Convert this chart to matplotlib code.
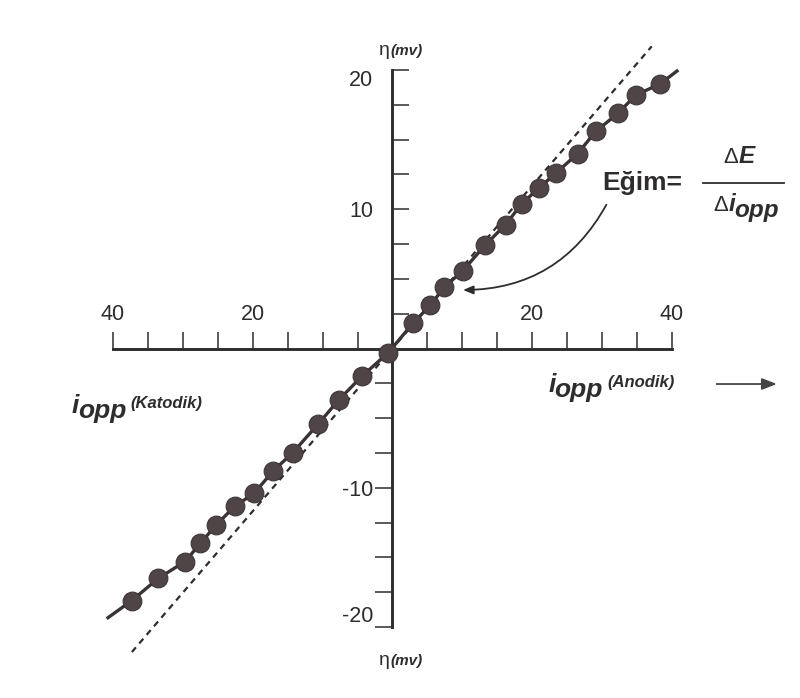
import matplotlib
matplotlib.use("Agg")
import matplotlib.pyplot as plt
from matplotlib.lines import Line2D

plt.rcParams['font.family'] = ['Liberation Sans', 'DejaVu Sans']

# Measured overpotential (mV) vs applied current, anodic branch
anodic_i = [2.9, 5.4, 7.4, 10.1, 13.2, 16.2, 18.5, 20.9, 23.4, 26.5, 29.1, 32.3, 34.8, 38.3]
anodic_eta = [1.8, 3.1, 4.4, 5.6, 7.4, 8.9, 10.4, 11.5, 12.6, 14.0, 15.6, 16.9, 18.2, 19.0]

# cathodic branch (including the point at the origin)
cathodic_i = [-0.6, -4.4, -7.7, -10.6, -14.3, -17.1, -19.8, -22.5, -25.3, -27.5, -29.7, -33.5, -37.3]
cathodic_eta = [-0.3, -2.0, -3.7, -5.4, -7.5, -8.8, -10.4, -11.3, -12.7, -14.0, -15.3, -16.5, -18.1]

# ends of the drawn polarization curve
curve_end_i = [-40.9, 40.9]
curve_end_eta = [-19.4, 20.0]

# tangent at the origin (slope = dE / di_opp)
tangent_i = [-37.3, 37.1]
tangent_eta = [-21.8, 21.7]

# axis ticks and labels
x_ticks = [-40, -35, -30, -25, -20, -15, -10, -5, 5, 10, 15, 20, 25, 30, 35, 40]
x_tick_labels = ["40", "", "", "", "20", "", "", "", "", "", "", "20", "", "", "", "40"]
y_ticks = [-20, -17.5, -15, -12.5, -10, -7.5, -5, -2.5, 2.5, 5, 7.5, 10, 12.5, 15, 17.5, 20]
y_tick_labels = ["-20", "", "", "", "-10", "", "", "", "", "", "", "10", "", "", "", "20"]

INK = '#2e2c2c'
DOT = '#4f4547'

fig = plt.figure(figsize=(8, 6.98), dpi=100)
ax = fig.add_axes([0, 0, 1, 1])
ax.set_xlim(-56.17, 58.32)
ax.set_ylim(-25.10, 25.03)

# axes crossing at the origin
ax.spines['bottom'].set_visible(False)
ax.spines['top'].set_position(('data', 0))
ax.spines['top'].set_bounds(-40, 40)
ax.spines['top'].set_linewidth(2.1)
ax.spines['top'].set_color(INK)
ax.spines['left'].set_position(('data', 0))
ax.spines['left'].set_bounds(-20, 20)
ax.spines['left'].set_linewidth(2.1)
ax.spines['left'].set_color(INK)
ax.spines['right'].set_position(('data', 0))
ax.spines['right'].set_visible(False)

ax.xaxis.set_ticks_position('top')
ax.set_xticks(x_ticks)
ax.set_xticklabels(x_tick_labels)
ax.tick_params(axis='x', direction='out', length=12, width=1.1, color=INK,
               labelsize=15.5, labelcolor=INK, pad=5, labeltop=True, labelbottom=False)

ax.yaxis.set_ticks_position('both')
ax.set_yticks(y_ticks)
ax.set_yticklabels(y_tick_labels)
ax.tick_params(axis='y', direction='in', length=12, width=1.1, color=INK,
               labelsize=15.5, labelcolor=INK, pad=14, labelleft=True, labelright=False)

# tangent line and polarization curve
ax.plot(tangent_i, tangent_eta, linestyle=(0, (2.8, 2.3)), color=INK, lw=1.6, zorder=2)
curve_i = [curve_end_i[0]] + cathodic_i[::-1] + anodic_i + [curve_end_i[1]]
curve_eta = [curve_end_eta[0]] + cathodic_eta[::-1] + anodic_eta + [curve_end_eta[1]]
ax.plot(curve_i, curve_eta, color='#3a3334', lw=2.4, solid_capstyle='butt', zorder=3)
ax.plot(cathodic_i + anodic_i, cathodic_eta + anodic_eta, linestyle='none', marker='o',
        markersize=13.5, markerfacecolor=DOT, markeredgecolor='#3e3537',
        markeredgewidth=0.8, zorder=4)


def chain(prev, s, dx=0.0, dy=0.0, **kw):
    """Place text s right after the text artist prev."""
    return ax.annotate(s, xy=(1, 0), xycoords=prev, xytext=(dx, dy),
                       textcoords='offset points', ha='left', va='bottom',
                       color=INK, **kw)


# eta(mV) labels at both ends of the vertical axis
for y in (21.4, -22.4):
    t = ax.text(-1.9, y, "η", fontsize=14, color=INK, ha='left', va='center')
    chain(t, "(mv)", dx=0.2, dy=0.8, fontsize=11, style='italic', fontweight='bold')

# current axis labels
t = ax.text(22.3, -3.5, "i", fontsize=19, style='italic', fontweight='bold',
            color=INK, ha='left', va='bottom')
t = chain(t, "opp", dx=-0.8, dy=-3.5, fontsize=19, style='italic', fontweight='bold')
chain(t, "(Anodik)", dx=3, dy=8.5, fontsize=12, style='italic', fontweight='bold')
ax.annotate("", xy=(55.4, -2.55), xytext=(46.0, -2.55),
            arrowprops=dict(arrowstyle='-|>,head_length=0.9,head_width=0.35',
                            color='#444', lw=1.3))

t = ax.text(-45.9, -5.0, "i", fontsize=19, style='italic', fontweight='bold',
            color=INK, ha='left', va='bottom')
t = chain(t, "opp", dx=-0.8, dy=-3.5, fontsize=19, style='italic', fontweight='bold')
chain(t, "(Katodik)", dx=3, dy=8.5, fontsize=12, style='italic', fontweight='bold')

# slope annotation
ax.text(30.0, 11.9, "Eğim=", fontsize=19, fontweight='bold', color=INK,
        ha='left', va='center')
ax.add_line(Line2D([44.5, 56.0], [11.9, 11.9], color=INK, lw=1.3))
t = ax.text(47.3, 13.7, "Δ", fontsize=16, color=INK, ha='left', va='center')
chain(t, "E", dx=0.5, fontsize=17.5, style='italic', fontweight='bold')
t = ax.text(45.9, 10.3, "Δ", fontsize=16, color=INK, ha='left', va='center')
t = chain(t, "i", dx=0.5, fontsize=17.5, style='italic', fontweight='bold')
chain(t, "opp", dx=-0.5, dy=-4.5, fontsize=17.5, style='italic', fontweight='bold')

ax.annotate("", xy=(9.7, 4.2), xytext=(30.8, 10.5),
            arrowprops=dict(arrowstyle='-|>,head_length=0.6,head_width=0.25',
                            connectionstyle='arc3,rad=-0.3', color=INK, lw=1.3))

# ticks above the origin point right, below it point left
for tick, val in zip(ax.yaxis.get_major_ticks(), y_ticks):
    tick.tick1line.set_visible(val > 0)
    tick.tick2line.set_visible(val < 0)
for lab in ax.get_yticklabels():
    if lab.get_text() == "20":
        lab.set_va('top')
    elif lab.get_text() == "-20":
        lab.set_va('bottom')

fig.savefig("out.png", dpi=100)
